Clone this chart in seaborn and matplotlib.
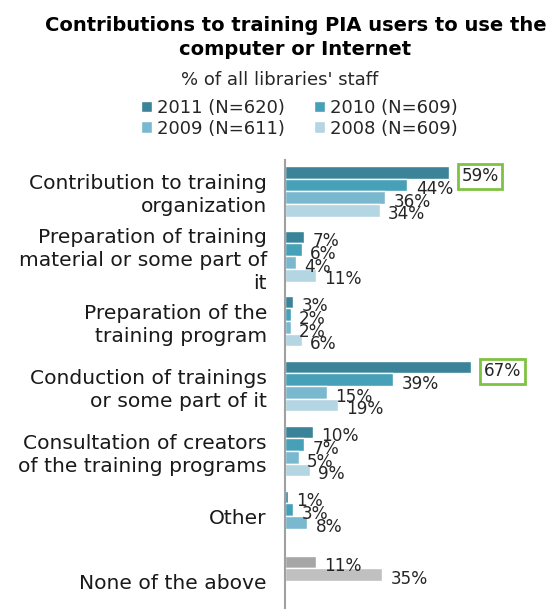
import numpy as np
import pandas as pd
import matplotlib
matplotlib.use("Agg")
import matplotlib.pyplot as plt
import seaborn as sns
from matplotlib.patches import Patch

# Data
categories = [
    "Contribution to training\norganization",
    "Preparation of training\nmaterial or some part of\nit",
    "Preparation of the\ntraining program",
    "Conduction of trainings\nor some part of it",
    "Consultation of creators\nof the training programs",
    "Other",
    "None of the above",
]
series = ["2011 (N=620)", "2010 (N=609)", "2009 (N=611)", "2008 (N=609)"]
v2011 = [59, 7, 3, 67, 10, 1, 11]
v2010 = [44, 6, 2, 39, 7, 3, 35]
v2009 = [36, 4, 2, 15, 5, 8, np.nan]
v2008 = [34, 11, 6, 19, 9, np.nan, np.nan]
highlight = [(0, 0), (3, 0)]  # (category index, series index) boxed in green

colors = ["#3a8399", "#45a0b8", "#7ab8cf", "#b4d5e2"]
gray_colors = ["#a6a6a6", "#c0c0c0"]

rows = []
for s, vals in zip(series, [v2011, v2010, v2009, v2008]):
    for c, v in zip(categories, vals):
        if not np.isnan(v):
            rows.append({"category": c, "series": s, "value": v})
df = pd.DataFrame(rows)

sns.set_style("white")
plt.rcParams["font.family"] = ["DejaVu Sans"]

fig = plt.figure(figsize=(5.52, 6.09), dpi=100)
ax = fig.add_axes([285 / 552, 0, 1 - 285 / 552, 1 - 160 / 609])

sns.barplot(data=df, y="category", x="value", hue="series", order=categories,
            hue_order=series, palette=colors, orient="h", width=0.78,
            errorbar=None, saturation=1, ax=ax, legend=False)

ax.set_xlim(0, 96)
ax.set_ylim(6.43, -0.48)
ax.set_xlabel("")
ax.set_ylabel("")
ax.set_xticks([])
ax.tick_params(axis="y", length=0, pad=13, labelsize=14.6, colors="#1a1a1a")
for lbl in ax.get_yticklabels():
    lbl.set_linespacing(1.28)
for side in ["top", "right", "bottom"]:
    ax.spines[side].set_visible(False)
ax.spines["left"].set_color("#a0a0a0")
ax.spines["left"].set_linewidth(1.5)

# Recolor "None of the above" bars in gray, add value labels
for si, cont in enumerate(ax.containers):
    for bar in cont:
        w = bar.get_width()
        yc = bar.get_y() + bar.get_height() / 2
        ci = int(round(yc))
        if ci == 6:
            bar.set_facecolor(gray_colors[si])
        boxed = (ci, si) in highlight
        t = ax.annotate(f"{w:.0f}%", xy=(w, yc), xytext=(6 if not boxed else 9, -3),
                        textcoords="offset points", va="center", ha="left",
                        fontsize=12.2, color="#262626")
        if boxed:
            t.set_bbox(dict(boxstyle="square,pad=0.2", facecolor="white",
                            edgecolor="#7dc242", linewidth=2))

# Title, subtitle, legend
fig.text(0.535, 0.938, "Contributions to training PIA users to use the\ncomputer or Internet",
         ha="center", va="center", fontsize=14, fontweight="bold", linespacing=1.35,
         color="black")
fig.text(0.507, 0.869, "% of all libraries' staff", ha="center", va="center",
         fontsize=13, color="#262626")
handles = [Patch(facecolor=colors[i], label=series[i]) for i in [0, 2, 1, 3]]
fig.legend(handles=handles, loc="center", bbox_to_anchor=(0.542, 0.806), ncol=2,
           frameon=False, fontsize=13, handlelength=0.6, handleheight=0.6,
           handletextpad=0.3, columnspacing=1.6, labelspacing=0.15,
           borderpad=0)

fig.savefig("out.png", dpi=100)
